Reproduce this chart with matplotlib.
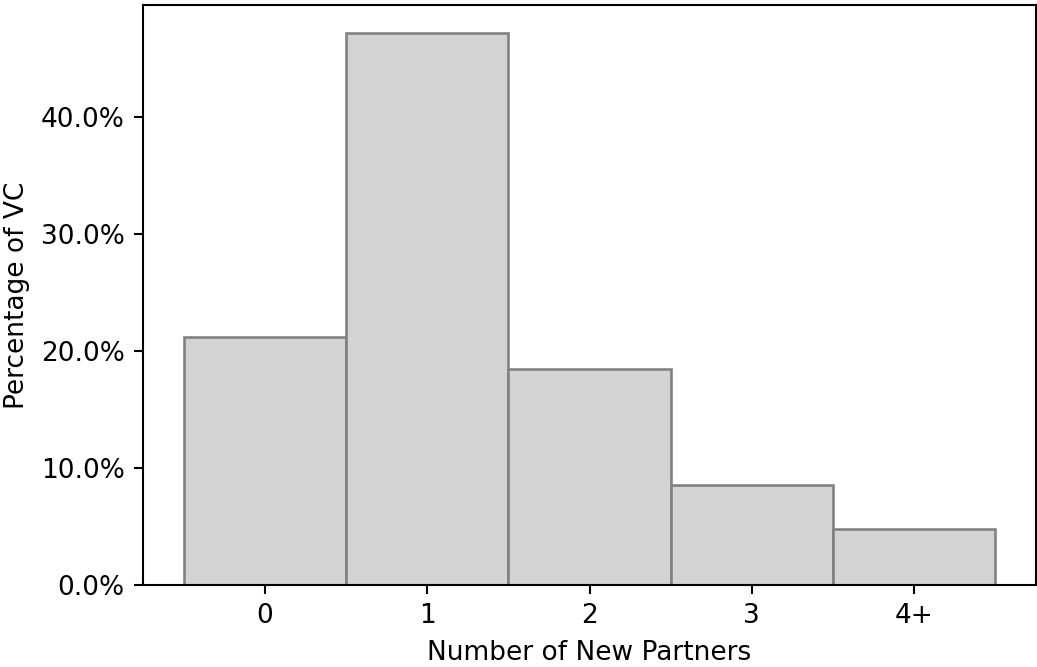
import matplotlib
matplotlib.use("Agg")
import matplotlib.pyplot as plt
from matplotlib.ticker import PercentFormatter

# share of VCs by number of new partners
categories = ["0", "1", "2", "3", "4+"]
percents = [0.212, 0.4726, 0.1846, 0.0855, 0.0479]

plt.rcParams["font.size"] = 12.7
plt.rcParams["axes.linewidth"] = 1.0
for a in ("xtick", "ytick"):
    plt.rcParams[a + ".major.size"] = 4.4
    plt.rcParams[a + ".major.width"] = 1.0
    plt.rcParams[a + ".major.pad"] = 4.4

fig = plt.figure(figsize=(1037 / 150, 667 / 150), dpi=150)
ax = fig.add_axes([143 / 1037, 82 / 667, 893 / 1037, 580 / 667])

x = range(len(categories))
ax.bar(x, percents, width=1.0, color="lightgray", edgecolor="gray", linewidth=1.25)
ax.set_xticks(list(x))
ax.set_xticklabels(categories)
ax.yaxis.set_major_formatter(PercentFormatter(1.0, decimals=1))
ax.set_xlabel("Number of New Partners", labelpad=5)
ax.set_ylabel("Percentage of VC", labelpad=5)

fig.savefig("out.png", dpi=150)
